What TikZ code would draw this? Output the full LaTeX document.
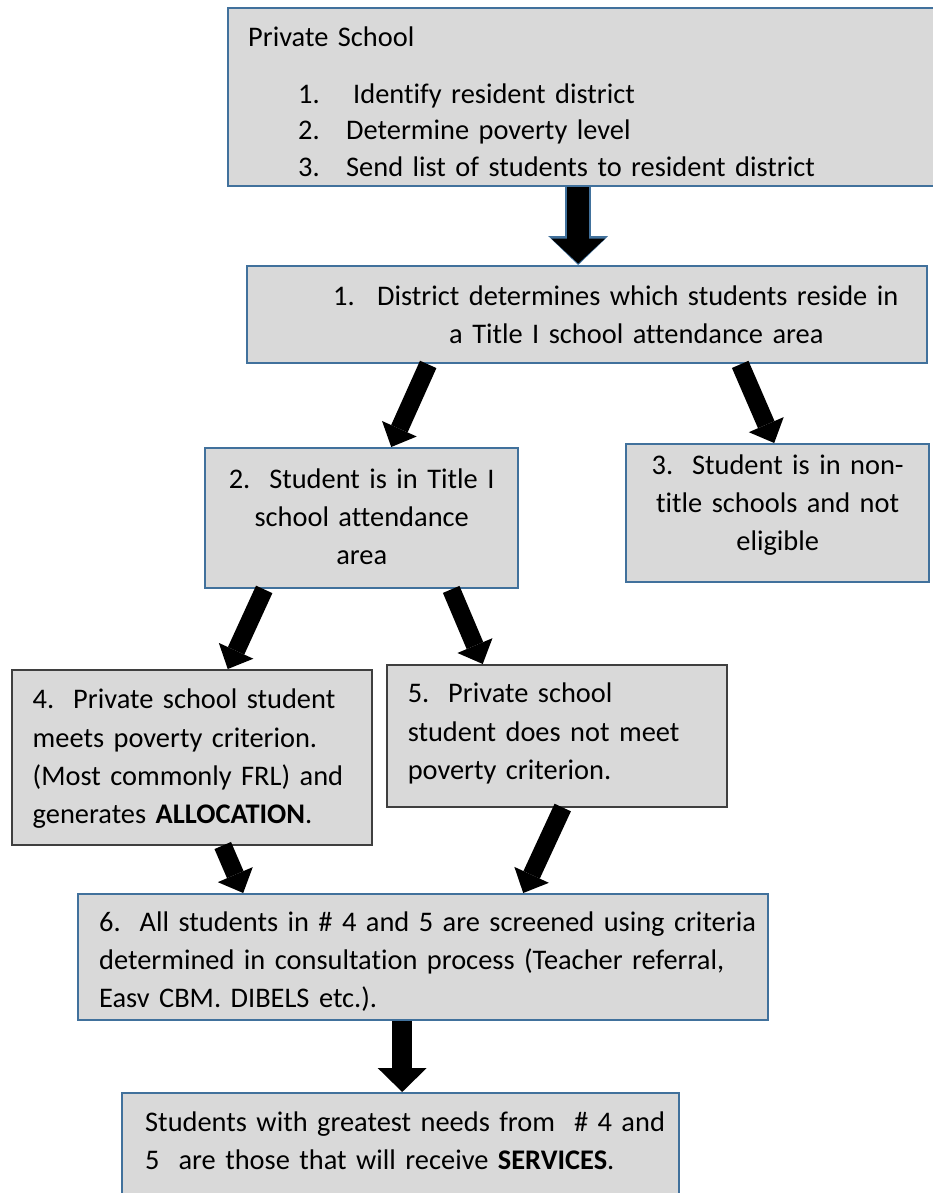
\documentclass[tikz,border=0pt]{standalone}
\usepackage{fontspec}
\setmainfont{Carlito}[Ligatures=NoCommon]
\usetikzlibrary{arrows.meta}

\definecolor{boxgray}{HTML}{D9D9D9}
\definecolor{boxblue}{HTML}{41719C}
\definecolor{boxdark}{HTML}{3F3F3F}
\newcommand\linetop[1]{\rule{0pt}{#1}}
\newcommand\linebot[1]{\rule[-#1]{0pt}{#1}}
\newcommand\boxfont{\fontsize{28.4}{38.3}\selectfont\hyphenpenalty=10000\exhyphenpenalty=10000}

\begin{document}
\begin{tikzpicture}[x=1pt, y=-1pt]
\tikzstyle{box}=[draw=boxblue, line width=2.4pt, fill=boxgray, anchor=north west, inner xsep=4pt, inner ysep=0pt, font=\boxfont, align=left]
\tikzstyle{graybox}=[box, draw=boxdark, line width=1.5pt]
\tikzstyle{fat}=[line width=18pt, -{Triangle[width=38pt, length=20pt, line width=0pt]}]
\useasboundingbox (0,0) rectangle (933,1193);
\fill[white] (0,0) rectangle (933,1193);

\node[box, minimum width=709pt, minimum height=178pt, text width=701pt] (ps) at (227,7) {%
\hspace*{16pt}\linetop{38pt}Private School\\[18.7pt]
\hspace*{66pt}\makebox[48pt][l]{1.}\hspace*{7pt}Identify resident district\\[-1.8pt]
\hspace*{66pt}\makebox[48pt][l]{2.}Determine poverty level\\[-1.8pt]
\hspace*{66pt}\makebox[48pt][l]{3.}Send list of students to resident district\linebot{10pt}};
\node[box, minimum width=680pt, minimum height=97pt, text width=672pt] (dist) at (246,265) {%
\hspace*{82pt}\makebox[44pt][l]{1.}District determines which students reside in\linetop{39pt}\\
\hspace*{198pt}a Title I school attendance area\linebot{19.7pt}};
\node[box, align=center, minimum width=313pt, minimum height=140pt, text width=305pt] (title) at (204,447) {%
\linetop{40pt}2.\ \ Student is in Title I\\ school attendance\\ area\linebot{23.4pt}};
\node[box, align=center, minimum width=303pt, minimum height=138pt, text width=295pt] (nontitle) at (625,443) {%
\linetop{30pt}3.\ \ Student is in non-\\ title schools and not\\ eligible\linebot{31.4pt}};
\node[graybox, minimum width=360pt, minimum height=175pt, text width=352pt] (meets) at (11,669) {%
\hspace*{17pt}\linetop{39pt}4.\ \ Private school student\\
\hspace*{17pt}meets poverty criterion.\\
\hspace*{17pt}(Most commonly FRL) and\\
\hspace*{17pt}generates \textbf{ALLOCATION}.\linebot{21.1pt}};
\node[graybox, minimum width=340pt, minimum height=142pt, text width=332pt] (notmeets) at (386,664) {%
\hspace*{17pt}\linetop{38pt}5.\ \ Private school\\
\hspace*{17pt}student does not meet\\
\hspace*{17pt}poverty criterion.\linebot{27.4pt}};
\node[box, minimum width=690pt, minimum height=126pt, text width=682pt] (screen) at (77,893) {%
\hspace*{17pt}\linetop{37pt}6.\ \ All students in \# 4 and 5 are screened using criteria\\
\hspace*{17pt}determined in consultation process (Teacher referral,\\
\hspace*{17pt}Easv CBM. DIBELS etc.).\linebot{12.4pt}};
\node[box, minimum width=557pt, minimum height=113pt, text width=549pt] (serve) at (121,1092) {%
\hspace*{19pt}\linetop{38pt}Students with greatest needs from\ \ \# 4 and\\
\hspace*{19pt}5\ \ are those that will receive \textbf{SERVICES}.\linebot{36.7pt}};

% arrows
\draw[fat, draw=boxblue, line width=26pt, -{Triangle[width=60pt, length=29pt, line width=0pt]}] ([xshift=-4.5pt]ps.south) -- ([xshift=-9pt]dist.north);
\draw[fat, line width=22pt, -{Triangle[width=54pt, length=25pt, line width=0pt]}, shorten >=1.5pt] ([xshift=-4.5pt]ps.south) -- ([xshift=-9pt]dist.north);
\draw[fat] ([xshift=-159pt]dist.south) -- ([xshift=29.5pt]title.north);
\draw[fat] ([xshift=153pt]dist.south) -- ([xshift=-3.5pt]nontitle.north);
\draw[fat] ([xshift=-97.5pt]title.south) -- ([xshift=36pt]meets.north);
\draw[fat] ([xshift=89.5pt]title.south) -- ([xshift=-74pt]notmeets.north);
\draw[fat] ([xshift=31pt]meets.south) -- ([xshift=-180pt]screen.north);
\draw[fat] ([xshift=6pt]notmeets.south) -- ([xshift=100pt]screen.north);
\draw[fat, line width=20pt, -{Triangle[width=49pt, length=24pt, line width=0pt]}] ([xshift=-21pt]screen.south) -- ([xshift=1.5pt]serve.north);
\end{tikzpicture}
\end{document}
